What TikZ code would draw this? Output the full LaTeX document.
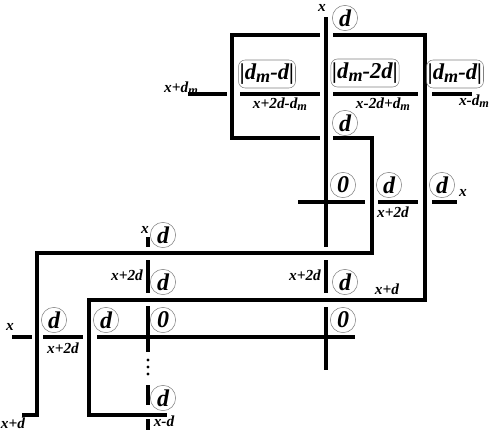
\documentclass[tikz,border=0pt]{standalone}
\usepackage{fontspec}
\setmainfont{Liberation Serif}
\newcommand{\dsubm}{d\raisebox{-0.25ex}{\scalebox{0.8}{m}}}

\begin{document}
\begin{tikzpicture}[x=0.75pt,y=-0.75pt,every node/.style={font=\bfseries\itshape},wire/.style={line width=3pt},val/.style={circle,draw=gray,thin,minimum size=19pt,inner sep=0pt,font=\fontsize{18}{18}\selectfont\bfseries\itshape},absbox/.style={draw=gray,rounded corners=5pt,minimum width=41pt,minimum height=21pt,inner sep=1pt,font=\fontsize{17}{17}\selectfont\bfseries\itshape},lbl/.style={inner sep=0pt,font=\fontsize{11.5}{12}\selectfont\bfseries\itshape}]
\useasboundingbox (0,0) rectangle (492,436);
% wires
\draw[wire] (320,35)--(232,35)--(232,138)--(320,138);
\draw[wire] (333,138)--(372,138)--(372,253)--(37,253)--(37,415)--(22,415);
\draw[wire] (333,35)--(425,35)--(425,300)--(89,300)--(89,415)--(167,415);
\draw[wire] (326,17)--(326,247); \draw[wire] (298,202)--(365,202);
\draw[wire] (378,202)--(418,202); \draw[wire] (432,202)--(457,202);
\draw[wire] (188,94)--(227,94); \draw[wire] (240,94)--(320,94);
\draw[wire] (333,94)--(418,94); \draw[wire] (432,94)--(472,94);
\draw[wire] (326,260)--(326,293); \draw[wire] (326,307)--(326,370);
\draw[wire] (97,337)--(355,337);
\draw[wire] (12,337)--(32,337); \draw[wire] (43,337)--(83,337);
\draw[wire] (148,237)--(148,247); \draw[wire] (148,260)--(148,293);
\draw[wire] (148,306)--(148,352); \draw[wire] (148,385)--(148,405);
\draw[wire] (148,419)--(148,430);
\foreach \y in {360,367,374} \fill (148,\y) circle (1.3pt);
% values
\node[val] (dtop) at (345,18) {d};
\node[val] (dmid) at (345,123) {d};
\node[val] (zr) at (343,185) {0};
\node[val] (dr1) at (389,185) {d};
\node[val] (dr2) at (442,185) {d};
\node[val] (dl1) at (163,235) {d};
\node[val] (dl2) at (163,282) {d};
\node[val] (dc2) at (345,282) {d};
\node[val] (dx) at (54,320) {d};
\node[val] (dy) at (106,320) {d};
\node[val] (zl) at (163,320) {0};
\node[val] (zc) at (343,320) {0};
\node[val] (dl3) at (163,398) {d};
\node[absbox] (a1) at (267,74) {|\dsubm-d|};
\node[absbox] (a2) at (365,73) {|\dsubm-2d|};
\node[absbox] (a3) at (455,74) {|\dsubm-d|};
% labels
\node[lbl] (l1) at (322,8) {x};
\node[lbl] (l2) at (181,88) {x+\dsubm};
\node[lbl] (l3) at (280,104) {x+2d-\dsubm};
\node[lbl] (l4) at (383,104) {x-2d+\dsubm};
\node[lbl] (l5) at (474,101) {x-\dsubm};
\node[lbl] (l6) at (393,212) {x+2d};
\node[lbl] (l7) at (463,193) {x};
\node[lbl] (l8) at (145,230) {x};
\node[lbl] (l9) at (127,275) {x+2d};
\node[lbl] (l10) at (305,275) {x+2d};
\node[lbl] (l11) at (387,289) {x+d};
\node[lbl] (l12) at (10,327) {x};
\node[lbl] (l13) at (63,348) {x+2d};
\node[lbl] (l14) at (13,423) {x+d};
\node[lbl] (l15) at (164,421) {x-d};
\end{tikzpicture}
\end{document}
